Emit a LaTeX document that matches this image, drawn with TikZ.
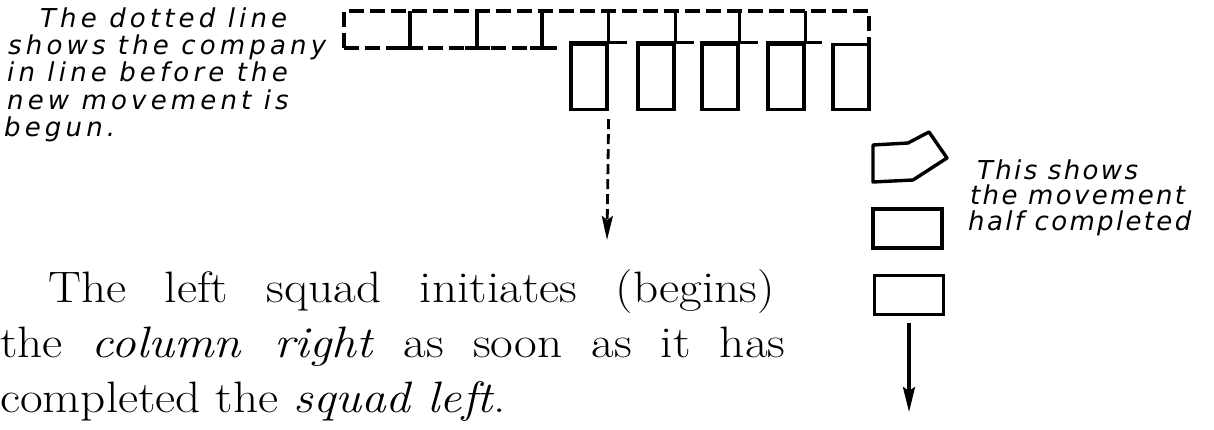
\documentclass[tikz,border=0pt]{standalone}
\usepackage{fontspec}
\usetikzlibrary{arrows.meta}
\newfontfamily\handfont[LetterSpace=9]{DejaVu Sans}
\newfontfamily\widehandfont[LetterSpace=16]{DejaVu Sans}

\begin{document}
\begin{tikzpicture}[x=1pt,y=-1pt,
	squad/.style={draw, line width=3.4pt, minimum width=36pt, minimum height=65pt, inner sep=0pt},
	rowsquad/.style={draw, line width=3.4pt, minimum width=69pt, minimum height=39pt, inner sep=0pt},
	oldline/.style={line width=3.2pt, dash pattern=on 15pt off 6pt},
	divider/.style={line width=3.2pt},
	note/.style={anchor=base west, inner sep=0pt, font=\handfont\itshape\fontsize{26}{27}\selectfont},
	widenote/.style={note, font=\widehandfont\itshape\fontsize{26}{27}\selectfont},
	body/.style={anchor=base west, inner sep=0pt, font=\fontsize{44}{55}\selectfont}]
	
	\useasboundingbox (0,0) rectangle (1214,430);
	
	% Company in line (dotted)
	\coordinate (top) at (0,11);
	\draw[oldline] (344,48) -- (344,11) -- (869,11) -- (869,43);
	\draw[oldline] (344,48) -- (557,48);
	\draw[divider] (410,11) -- (410,48);
	\draw[divider] (398,48) -- (423,48);
	\draw[divider] (477,11) -- (477,48);
	\draw[divider] (465,48) -- (490,48);
	\draw[divider] (542,11) -- (542,48);
	\draw[divider] (530,48) -- (556,48);
	
	% Squads after the squad left
	\node[squad] (sq1) at (589,77) {};
	\node[squad] (sq2) at (656,77) {};
	\node[squad] (sq3) at (720,77) {};
	\node[squad] (sq4) at (786,77) {};
	\node[squad] (sq5) at (851,77) {};
	
	\draw[divider] (sq1.north east) -- (sq1.north east |- top);
	\draw[divider] (sq2.north east) -- (sq2.north east |- top);
	\draw[divider] (sq3.north east) -- (sq3.north east |- top);
	\draw[divider] (sq4.north east) -- (sq4.north east |- top);
	
	\draw[divider] (sq1.north west) -- ++(58,0);
	\draw[divider] (sq2.north west) -- ++(58,0);
	\draw[divider] (sq3.north west) -- ++(58,0);
	\draw[divider] (sq4.north west) -- ++(56,0);
	
	% Left squad moves off
	\coordinate (advance) at (607,240);
	\draw[divider, line width=2.8pt, dash pattern=on 10pt off 5pt, -{Stealth[length=24pt,width=11pt,inset=4pt]}, shorten <=8pt] (sq1.south east) -- (advance);
	
	% Movement half completed
	\draw[divider, line width=3.4pt, line join=round] (873,145) -- (908,143) -- (929,132) -- (947,158) -- (913,180) -- (873,182) -- cycle;
	\node[rowsquad] (col1) at (907.5,228.5) {};
	\node[rowsquad] (col2) at (909,295) {};
	\coordinate (colend) at (909,412);
	\draw[divider, -{Stealth[length=25pt,width=12pt,inset=4pt]}, shorten <=7pt] (col2.south) -- (colend);
	
	% Notes
	\node[widenote] (note1) at (40,28) {The dotted line};
	\node[widenote] (note2) at (8,55) {shows the company};
	\node[widenote] (note3) at (7,82) {in line before the};
	\node[widenote] (note4) at (7,110) {new movement is};
	\node[widenote] (note5) at (4,137) {begun.};
	
	\node[note] (half1) at (977,180) {This shows};
	\node[note] (half2) at (970,205) {the movement};
	\node[note] (half3) at (968,230) {half completed};
	
	% Text
	\node[body] (body1) at (48,302) {\scalebox{1.12}[1]{\makebox[649pt][s]{The left squad initiates (begins)}}};
	\node[body] (body2) at (0,357) {\scalebox{1.12}[1]{\makebox[701pt][s]{the \textit{column right} as soon as it has}}};
	\node[body] (body3) at (0,412) {\scalebox{1.12}[1]{completed the \textit{squad left}.}};
	
\end{tikzpicture}
\end{document}
